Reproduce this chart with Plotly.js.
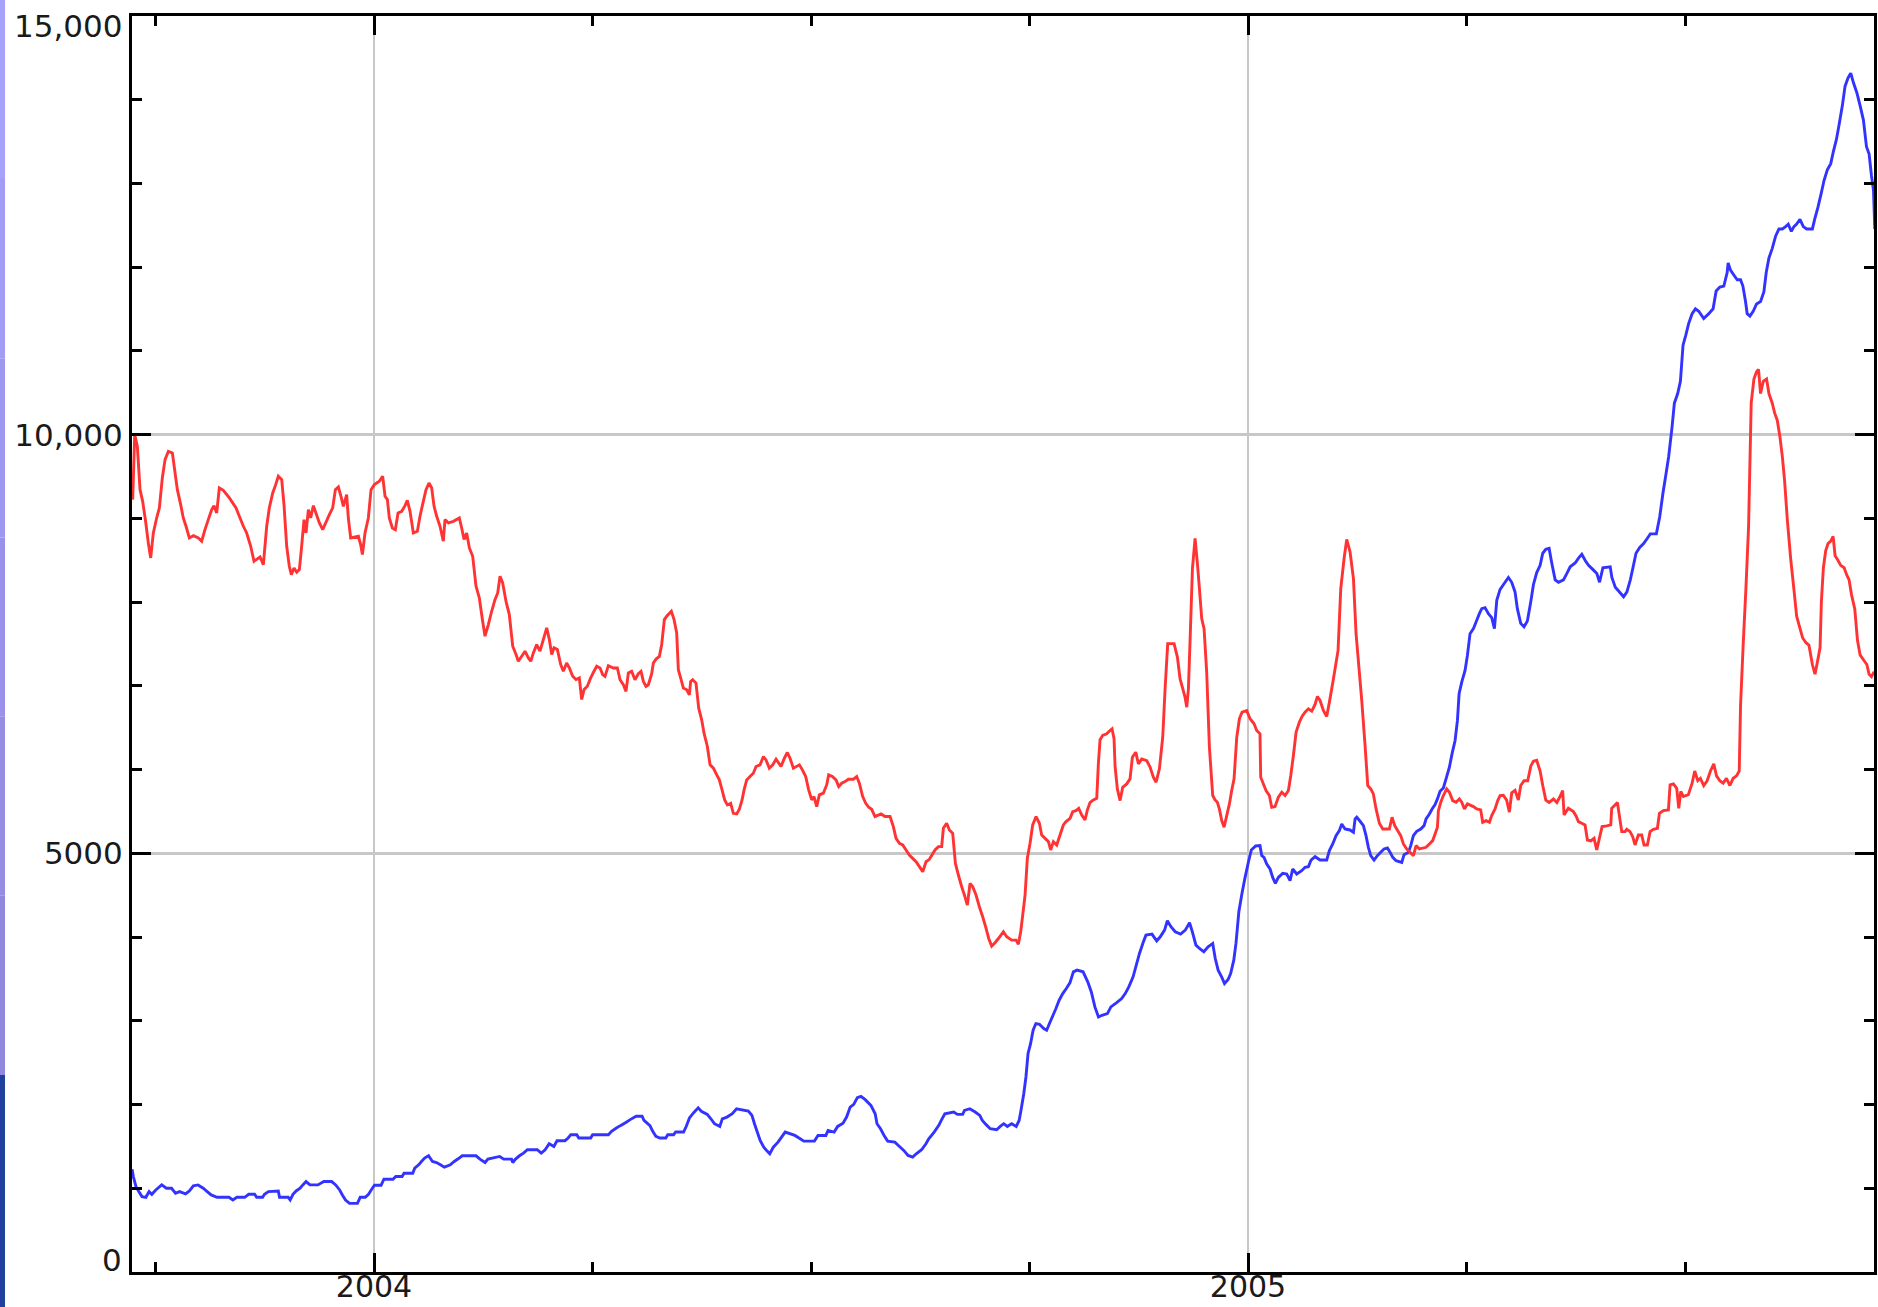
<!DOCTYPE html>
<html>
<head>
<meta charset="utf-8">
<script src="https://cdn.plot.ly/plotly-3.0.1.min.js"></script>
<style>
  html, body { margin: 0; padding: 0; background: #ffffff; }
  #chart { width: 1878px; height: 1307px; }
</style>
</head>
<body>
<div id="chart"></div>
<script>
// ---- Data (decimal year, value) ----
const redSeries = [
[2003.7239,9224],[2003.7262,10000],[2003.7292,9861],[2003.7323,9343],[2003.7353,9204],[2003.7384,8985],[2003.7418,8707],[2003.7445,8528],
[2003.7475,8826],[2003.7513,9005],[2003.7544,9125],[2003.7578,9483],[2003.7609,9702],[2003.7647,9801],[2003.7693,9781],[2003.7750,9343],
[2003.7788,9164],[2003.7818,9005],[2003.7849,8906],[2003.7887,8767],[2003.7933,8794],[2003.7990,8767],[2003.8028,8727],[2003.8066,8866],
[2003.8104,8985],[2003.8143,9105],[2003.8169,9152],[2003.8200,9065],[2003.8230,9363],[2003.8276,9335],[2003.8345,9244],[2003.8421,9125],
[2003.8459,9025],[2003.8505,8906],[2003.8543,8826],[2003.8589,8667],[2003.8627,8488],[2003.8696,8540],[2003.8734,8448],[2003.8772,8906],
[2003.8802,9125],[2003.8841,9304],[2003.8875,9403],[2003.8905,9503],[2003.8944,9463],[2003.8970,9164],[2003.9001,8667],[2003.9031,8428],
[2003.9054,8329],[2003.9085,8408],[2003.9115,8357],[2003.9146,8389],[2003.9172,8667],[2003.9199,8985],[2003.9222,8826],[2003.9249,9105],
[2003.9275,9005],[2003.9306,9152],[2003.9375,8946],[2003.9413,8866],[2003.9489,9045],[2003.9527,9125],[2003.9558,9343],[2003.9592,9375],
[2003.9622,9264],[2003.9649,9144],[2003.9687,9284],[2003.9706,9005],[2003.9733,8767],[2003.9821,8786],[2003.9847,8687],[2003.9867,8568],
[2003.9897,8826],[2003.9935,9005],[2003.9966,9343],[2004.0004,9403],[2004.0061,9443],[2004.0099,9503],[2004.0126,9264],[2004.0153,9224],
[2004.0175,9005],[2004.0210,8886],[2004.0244,8866],[2004.0275,9065],[2004.0317,9085],[2004.0355,9152],[2004.0381,9216],[2004.0412,9085],
[2004.0450,8826],[2004.0496,8846],[2004.0526,9025],[2004.0564,9204],[2004.0595,9343],[2004.0629,9423],[2004.0660,9363],[2004.0687,9144],
[2004.0717,9025],[2004.0755,8906],[2004.0793,8727],[2004.0812,8985],[2004.0851,8946],[2004.0908,8965],[2004.0976,9005],[2004.1003,8886],
[2004.1030,8747],[2004.1060,8826],[2004.1091,8647],[2004.1129,8548],[2004.1167,8190],[2004.1205,8050],[2004.1240,7792],[2004.1270,7593],
[2004.1308,7732],[2004.1346,7891],[2004.1384,8030],[2004.1415,8110],[2004.1442,8309],[2004.1472,8229],[2004.1510,8010],[2004.1548,7851],
[2004.1587,7473],[2004.1625,7374],[2004.1651,7294],[2004.1690,7354],[2004.1728,7414],[2004.1766,7334],[2004.1793,7294],[2004.1823,7394],
[2004.1861,7493],[2004.1899,7414],[2004.1937,7553],[2004.1976,7692],[2004.2006,7553],[2004.2033,7374],[2004.2060,7454],[2004.2098,7434],
[2004.2136,7254],[2004.2166,7175],[2004.2204,7274],[2004.2235,7214],[2004.2273,7115],[2004.2311,7075],[2004.2349,7095],[2004.2376,6837],
[2004.2403,6956],[2004.2441,6996],[2004.2479,7095],[2004.2517,7175],[2004.2548,7234],[2004.2586,7214],[2004.2616,7135],[2004.2643,7113],
[2004.2681,7241],[2004.2738,7213],[2004.2784,7213],[2004.2815,7073],[2004.2853,7013],[2004.2883,6934],[2004.2910,7153],[2004.2948,7173],
[2004.2986,7073],[2004.3024,7145],[2004.3055,7173],[2004.3082,7053],[2004.3112,6994],[2004.3139,7013],[2004.3177,7145],[2004.3196,7273],
[2004.3227,7320],[2004.3265,7352],[2004.3291,7492],[2004.3322,7791],[2004.3349,7831],[2004.3402,7891],[2004.3433,7791],[2004.3463,7631],
[2004.3482,7193],[2004.3509,7093],[2004.3539,6974],[2004.3578,6954],[2004.3608,6894],[2004.3623,7053],[2004.3646,7073],[2004.3684,7033],
[2004.3715,6734],[2004.3749,6595],[2004.3776,6435],[2004.3814,6276],[2004.3845,6057],[2004.3883,6017],[2004.3921,5937],[2004.3951,5877],
[2004.3982,5758],[2004.4012,5638],[2004.4043,5578],[2004.4081,5598],[2004.4111,5478],[2004.4150,5470],[2004.4180,5526],[2004.4211,5638],
[2004.4234,5758],[2004.4264,5877],[2004.4302,5917],[2004.4340,5957],[2004.4371,6037],[2004.4417,6057],[2004.4455,6156],[2004.4485,6116],
[2004.4523,6017],[2004.4562,6057],[2004.4600,6124],[2004.4657,6037],[2004.4695,6136],[2004.4729,6204],[2004.4760,6136],[2004.4798,6017],
[2004.4867,6057],[2004.4901,5997],[2004.4939,5917],[2004.4973,5758],[2004.5008,5638],[2004.5034,5678],[2004.5065,5558],[2004.5095,5698],
[2004.5141,5718],[2004.5179,5817],[2004.5202,5937],[2004.5244,5917],[2004.5286,5877],[2004.5317,5797],[2004.5351,5837],[2004.5389,5857],
[2004.5427,5885],[2004.5485,5885],[2004.5523,5917],[2004.5553,5837],[2004.5591,5678],[2004.5626,5598],[2004.5660,5550],[2004.5694,5526],
[2004.5732,5439],[2004.5801,5470],[2004.5847,5439],[2004.5904,5439],[2004.5942,5319],[2004.5973,5179],[2004.6011,5120],[2004.6049,5100],
[2004.6087,5040],[2004.6125,4980],[2004.6163,4940],[2004.6202,4900],[2004.6240,4841],[2004.6278,4781],[2004.6316,4900],[2004.6354,4928],
[2004.6419,5040],[2004.6457,5080],[2004.6495,5080],[2004.6514,5299],[2004.6552,5359],[2004.6583,5279],[2004.6621,5239],[2004.6652,4880],
[2004.6686,4741],[2004.6724,4601],[2004.6755,4502],[2004.6789,4382],[2004.6819,4641],[2004.6850,4601],[2004.6888,4502],[2004.6926,4362],
[2004.6964,4242],[2004.7003,4103],[2004.7033,3983],[2004.7067,3892],[2004.7105,3932],[2004.7144,3983],[2004.7201,4063],[2004.7239,4003],
[2004.7296,3963],[2004.7346,3963],[2004.7372,3915],[2004.7399,4063],[2004.7422,4262],[2004.7449,4502],[2004.7475,4940],[2004.7506,5120],
[2004.7536,5339],[2004.7575,5439],[2004.7613,5359],[2004.7639,5219],[2004.7678,5179],[2004.7716,5140],[2004.7742,5040],[2004.7773,5140],
[2004.7811,5100],[2004.7849,5219],[2004.7887,5339],[2004.7918,5379],[2004.7964,5419],[2004.7994,5498],[2004.8032,5510],[2004.8063,5538],
[2004.8097,5458],[2004.8135,5399],[2004.8162,5518],[2004.8192,5606],[2004.8230,5638],[2004.8269,5658],[2004.8288,6077],[2004.8307,6356],
[2004.8337,6407],[2004.8383,6427],[2004.8421,6467],[2004.8444,6487],[2004.8467,6368],[2004.8479,6037],[2004.8505,5769],[2004.8536,5630],
[2004.8566,5789],[2004.8612,5829],[2004.8650,5889],[2004.8677,6148],[2004.8715,6208],[2004.8746,6068],[2004.8784,6128],[2004.8841,6108],
[2004.8879,6029],[2004.8917,5909],[2004.8948,5849],[2004.8986,6009],[2004.9024,6387],[2004.9051,6966],[2004.9081,7504],[2004.9154,7504],
[2004.9192,7344],[2004.9222,7085],[2004.9253,6966],[2004.9279,6866],[2004.9299,6746],[2004.9318,6966],[2004.9337,7544],[2004.9364,8401],
[2004.9394,8760],[2004.9421,8461],[2004.9444,8162],[2004.9470,7803],[2004.9497,7683],[2004.9527,7165],[2004.9558,6268],[2004.9596,5690],
[2004.9623,5638],[2004.9649,5610],[2004.9672,5530],[2004.9699,5391],[2004.9726,5311],[2004.9756,5451],[2004.9787,5590],[2004.9813,5750],
[2004.9840,5889],[2004.9871,6387],[2004.9901,6607],[2004.9932,6686],[2004.9985,6706],[2005.0023,6607],[2005.0069,6547],[2005.0099,6467],
[2005.0137,6427],[2005.0145,5909],[2005.0176,5829],[2005.0206,5750],[2005.0244,5690],[2005.0271,5550],[2005.0309,5558],[2005.0347,5670],
[2005.0386,5730],[2005.0424,5690],[2005.0462,5750],[2005.0489,5929],[2005.0519,6168],[2005.0550,6447],[2005.0588,6567],[2005.0618,6635],
[2005.0652,6686],[2005.0691,6726],[2005.0729,6698],[2005.0767,6778],[2005.0794,6874],[2005.0824,6826],[2005.0862,6706],[2005.0900,6635],
[2005.0931,6806],[2005.0969,7033],[2005.0996,7205],[2005.1030,7424],[2005.1061,8162],[2005.1099,8521],[2005.1129,8748],[2005.1167,8600],
[2005.1206,8281],[2005.1236,7623],[2005.1270,7205],[2005.1301,6826],[2005.1339,6288],[2005.1370,5809],[2005.1404,5769],[2005.1434,5710],
[2005.1465,5530],[2005.1503,5359],[2005.1541,5291],[2005.1617,5291],[2005.1648,5431],[2005.1678,5331],[2005.1713,5271],[2005.1747,5211],
[2005.1778,5112],[2005.1816,5052],[2005.1854,5012],[2005.1892,4972],[2005.1923,5092],[2005.1961,5052],[2005.2037,5072],[2005.2075,5112],
[2005.2113,5152],[2005.2140,5231],[2005.2167,5311],[2005.2178,5510],[2005.2205,5610],[2005.2235,5690],[2005.2273,5769],[2005.2304,5730],
[2005.2342,5630],[2005.2380,5610],[2005.2418,5650],[2005.2445,5610],[2005.2476,5530],[2005.2510,5590],[2005.2579,5558],[2005.2617,5530],
[2005.2662,5518],[2005.2685,5371],[2005.2723,5391],[2005.2762,5371],[2005.2788,5451],[2005.2826,5530],[2005.2857,5630],[2005.2884,5690],
[2005.2921,5694],[2005.2959,5636],[2005.2990,5492],[2005.3017,5723],[2005.3055,5752],[2005.3093,5636],[2005.3120,5810],[2005.3158,5867],
[2005.3200,5867],[2005.3235,6041],[2005.3265,6099],[2005.3303,6110],[2005.3342,5983],[2005.3372,5810],[2005.3407,5636],[2005.3445,5607],
[2005.3495,5648],[2005.3533,5607],[2005.3570,5678],[2005.3600,5750],[2005.3616,5459],[2005.3665,5538],[2005.3723,5498],[2005.3753,5447],
[2005.3780,5379],[2005.3818,5359],[2005.3856,5339],[2005.3883,5159],[2005.3921,5148],[2005.3959,5179],[2005.3990,5040],[2005.4020,5179],
[2005.4051,5319],[2005.4104,5327],[2005.4150,5339],[2005.4161,5538],[2005.4199,5578],[2005.4226,5606],[2005.4249,5447],[2005.4276,5259],
[2005.4314,5259],[2005.4333,5287],[2005.4371,5259],[2005.4401,5199],[2005.4428,5100],[2005.4466,5219],[2005.4504,5219],[2005.4531,5100],
[2005.4569,5100],[2005.4600,5259],[2005.4638,5287],[2005.4684,5299],[2005.4707,5478],[2005.4752,5510],[2005.4810,5518],[2005.4829,5817],
[2005.4867,5829],[2005.4905,5777],[2005.4928,5538],[2005.4951,5738],[2005.4981,5678],[2005.5038,5700],[2005.5081,5838],[2005.5111,5983],
[2005.5146,5867],[2005.5176,5896],[2005.5214,5810],[2005.5253,5867],[2005.5291,5983],[2005.5329,6070],[2005.5360,5925],[2005.5398,5867],
[2005.5436,5838],[2005.5474,5896],[2005.5513,5810],[2005.5551,5896],[2005.5589,5925],[2005.5620,5983],[2005.5635,6763],[2005.5665,7486],
[2005.5696,8150],[2005.5727,8902],[2005.5757,10376],[2005.5788,10665],[2005.5818,10751],[2005.5841,10780],[2005.5864,10491],[2005.5895,10636],
[2005.5933,10665],[2005.5960,10491],[2005.5998,10376],[2005.6025,10260],[2005.6055,10173],[2005.6086,9971],[2005.6113,9740],[2005.6139,9451],
[2005.6170,8988],[2005.6208,8526],[2005.6246,8150],[2005.6277,7833],[2005.6315,7688],[2005.6346,7572],[2005.6384,7515],[2005.6418,7486],
[2005.6457,7255],[2005.6487,7139],[2005.6514,7283],[2005.6545,7457],[2005.6560,8006],[2005.6583,8411],[2005.6609,8613],[2005.6636,8700],
[2005.6667,8728],[2005.6694,8786],[2005.6717,8555],[2005.6751,8497],[2005.6781,8439],[2005.6820,8411],[2005.6850,8324],[2005.6877,8266],
[2005.6904,8093],[2005.6942,7919],[2005.6973,7544],[2005.7003,7370],[2005.7041,7312],[2005.7080,7255],[2005.7106,7139],[2005.7133,7110],
[2005.7164,7168]
];

const blueSeries = [
[2003.7232,1228],[2003.7246,1140],[2003.7277,1020],[2003.7309,960],[2003.7345,900],[2003.7390,892],[2003.7426,960],[2003.7458,928],
[2003.7503,980],[2003.7571,1040],[2003.7625,1000],[2003.7684,1000],[2003.7729,940],[2003.7775,960],[2003.7843,932],[2003.7888,968],
[2003.7933,1028],[2003.7987,1040],[2003.8046,1000],[2003.8091,960],[2003.8137,920],[2003.8204,892],[2003.8340,892],[2003.8385,860],
[2003.8431,892],[2003.8521,892],[2003.8566,928],[2003.8634,928],[2003.8657,892],[2003.8725,892],[2003.8747,928],[2003.8792,960],
[2003.8905,968],[2003.8919,892],[2003.9019,892],[2003.9041,860],[2003.9073,928],[2003.9109,968],[2003.9154,1000],[2003.9186,1040],
[2003.9222,1080],[2003.9267,1040],[2003.9358,1040],[2003.9426,1080],[2003.9516,1080],[2003.9561,1040],[2003.9607,980],[2003.9638,920],
[2003.9674,860],[2003.9720,820],[2003.9810,820],[2003.9842,892],[2003.9900,892],[2003.9937,928],[2003.9968,980],[2004.0005,1036],
[2004.0081,1036],[2004.0113,1108],[2004.0217,1108],[2004.0249,1140],[2004.0321,1140],[2004.0344,1180],[2004.0443,1180],[2004.0466,1240],
[2004.0511,1280],[2004.0543,1320],[2004.0579,1360],[2004.0624,1388],[2004.0669,1320],[2004.0715,1308],[2004.0760,1280],[2004.0805,1252],
[2004.0873,1280],[2004.0918,1320],[2004.0963,1352],[2004.1009,1388],[2004.1167,1388],[2004.1212,1348],[2004.1271,1308],[2004.1303,1348],
[2004.1438,1380],[2004.1484,1348],[2004.1574,1348],[2004.1588,1308],[2004.1619,1348],[2004.1664,1388],[2004.1710,1420],[2004.1755,1460],
[2004.1868,1460],[2004.1913,1420],[2004.1958,1460],[2004.2004,1532],[2004.2058,1500],[2004.2094,1568],[2004.2185,1568],[2004.2221,1600],
[2004.2252,1640],[2004.2320,1640],[2004.2343,1600],[2004.2479,1600],[2004.2501,1640],[2004.2682,1640],[2004.2718,1680],[2004.2773,1720],
[2004.2818,1748],[2004.2886,1788],[2004.2931,1820],[2004.2999,1860],[2004.3067,1860],[2004.3089,1812],[2004.3157,1748],[2004.3189,1680],
[2004.3225,1620],[2004.3270,1600],[2004.3338,1600],[2004.3361,1640],[2004.3428,1640],[2004.3451,1672],[2004.3542,1672],[2004.3573,1740],
[2004.3609,1840],[2004.3655,1900],[2004.3709,1960],[2004.3745,1920],[2004.3813,1882],[2004.3854,1830],[2004.3895,1771],[2004.3956,1739],
[2004.3985,1830],[2004.4038,1850],[2004.4099,1890],[2004.4148,1950],[2004.4283,1922],[2004.4324,1870],[2004.4353,1771],[2004.4385,1671],
[2004.4418,1571],[2004.4459,1491],[2004.4492,1452],[2004.4528,1412],[2004.4569,1491],[2004.4622,1551],[2004.4663,1611],[2004.4704,1671],
[2004.4815,1631],[2004.4876,1591],[2004.4917,1563],[2004.5039,1563],[2004.5080,1631],[2004.5170,1631],[2004.5195,1691],[2004.5264,1671],
[2004.5305,1739],[2004.5366,1778],[2004.5407,1850],[2004.5448,1970],[2004.5489,2002],[2004.5530,2082],[2004.5571,2098],[2004.5620,2058],
[2004.5685,1990],[2004.5734,1890],[2004.5755,1771],[2004.5795,1711],[2004.5836,1631],[2004.5877,1563],[2004.5959,1551],[2004.6012,1499],
[2004.6061,1452],[2004.6110,1392],[2004.6163,1372],[2004.6204,1412],[2004.6265,1460],[2004.6315,1531],[2004.6347,1591],[2004.6409,1671],
[2004.6462,1751],[2004.6490,1810],[2004.6531,1890],[2004.6633,1910],[2004.6674,1882],[2004.6735,1882],[2004.6756,1930],[2004.6817,1950],
[2004.6878,1910],[2004.6931,1870],[2004.6960,1810],[2004.7001,1763],[2004.7050,1711],[2004.7124,1699],[2004.7165,1739],[2004.7205,1771],
[2004.7246,1739],[2004.7295,1771],[2004.7348,1739],[2004.7381,1810],[2004.7402,1930],[2004.7434,2129],[2004.7459,2329],[2004.7483,2608],
[2004.7512,2727],[2004.7541,2887],[2004.7573,2967],[2004.7614,2959],[2004.7663,2907],[2004.7696,2887],[2004.7728,2967],[2004.7769,3066],
[2004.7802,3146],[2004.7839,3246],[2004.7880,3325],[2004.7921,3385],[2004.7962,3453],[2004.8002,3585],[2004.8043,3605],[2004.8113,3585],
[2004.8166,3465],[2004.8207,3345],[2004.8248,3166],[2004.8289,3046],[2004.8329,3066],[2004.8391,3086],[2004.8431,3166],[2004.8493,3214],
[2004.8554,3266],[2004.8595,3325],[2004.8636,3405],[2004.8685,3525],[2004.8726,3684],[2004.8758,3804],[2004.8799,3931],[2004.8832,4023],
[2004.8901,4035],[2004.8955,3955],[2004.8996,4003],[2004.9045,4083],[2004.9077,4195],[2004.9118,4123],[2004.9167,4063],[2004.9228,4035],
[2004.9282,4083],[2004.9331,4171],[2004.9363,4063],[2004.9404,3904],[2004.9445,3864],[2004.9494,3824],[2004.9543,3884],[2004.9596,3924],
[2004.9625,3744],[2004.9658,3605],[2004.9698,3525],[2004.9731,3445],[2004.9772,3493],[2004.9801,3565],[2004.9837,3724],[2004.9862,3924],
[2004.9895,4302],[2004.9931,4522],[2004.9964,4701],[2005.0005,4900],[2005.0038,5040],[2005.0087,5088],[2005.0137,5092],[2005.0157,4972],
[2005.0183,4952],[2005.0214,4872],[2005.0252,4813],[2005.0282,4713],[2005.0313,4641],[2005.0347,4713],[2005.0397,4761],[2005.0443,4753],
[2005.0481,4673],[2005.0511,4813],[2005.0557,4753],[2005.0614,4793],[2005.0652,4833],[2005.0691,4841],[2005.0721,4920],[2005.0767,4960],
[2005.0824,4920],[2005.0900,4920],[2005.0931,5032],[2005.0969,5112],[2005.1007,5211],[2005.1045,5271],[2005.1072,5351],[2005.1110,5291],
[2005.1167,5279],[2005.1206,5251],[2005.1225,5411],[2005.1244,5431],[2005.1282,5383],[2005.1320,5331],[2005.1350,5211],[2005.1377,5072],
[2005.1404,4972],[2005.1442,4920],[2005.1480,4972],[2005.1518,5012],[2005.1556,5052],[2005.1595,5064],[2005.1625,5012],[2005.1656,4952],
[2005.1694,4912],[2005.1759,4892],[2005.1785,4984],[2005.1835,5012],[2005.1862,5092],[2005.1892,5211],[2005.1930,5263],[2005.1976,5291],
[2005.2014,5331],[2005.2037,5411],[2005.2075,5470],[2005.2106,5530],[2005.2140,5582],[2005.2167,5650],[2005.2197,5742],[2005.2235,5781],
[2005.2273,5917],[2005.2304,6029],[2005.2334,6188],[2005.2369,6348],[2005.2396,6587],[2005.2415,6906],[2005.2445,7045],[2005.2483,7185],
[2005.2510,7364],[2005.2540,7623],[2005.2579,7683],[2005.2609,7763],[2005.2647,7863],[2005.2674,7922],[2005.2712,7934],[2005.2750,7863],
[2005.2788,7815],[2005.2819,7683],[2005.2846,8022],[2005.2883,8150],[2005.2921,8208],[2005.2979,8295],[2005.3017,8237],[2005.3055,8122],
[2005.3082,7919],[2005.3120,7746],[2005.3158,7705],[2005.3196,7775],[2005.3235,8006],[2005.3265,8208],[2005.3303,8353],[2005.3342,8439],
[2005.3372,8584],[2005.3407,8630],[2005.3445,8642],[2005.3475,8468],[2005.3514,8266],[2005.3552,8237],[2005.3609,8266],[2005.3647,8341],
[2005.3686,8422],[2005.3743,8468],[2005.3781,8526],[2005.3819,8572],[2005.3858,8497],[2005.3896,8439],[2005.3953,8382],[2005.3991,8341],
[2005.4022,8237],[2005.4060,8410],[2005.4144,8422],[2005.4163,8295],[2005.4202,8179],[2005.4240,8133],[2005.4297,8064],[2005.4335,8122],
[2005.4374,8266],[2005.4404,8410],[2005.4439,8584],[2005.4481,8653],[2005.4526,8700],[2005.4565,8757],[2005.4603,8815],[2005.4672,8815],
[2005.4710,9017],[2005.4748,9306],[2005.4779,9509],[2005.4813,9740],[2005.4851,10087],[2005.4878,10376],[2005.4916,10491],[2005.4947,10636],
[2005.4977,11069],[2005.5008,11185],[2005.5042,11329],[2005.5081,11445],[2005.5119,11503],[2005.5157,11474],[2005.5214,11387],[2005.5272,11445],
[2005.5321,11503],[2005.5356,11717],[2005.5398,11763],[2005.5444,11775],[2005.5482,11936],[2005.5493,12052],[2005.5520,11965],[2005.5558,11907],
[2005.5597,11850],[2005.5635,11850],[2005.5662,11775],[2005.5692,11590],[2005.5711,11445],[2005.5742,11416],[2005.5780,11474],[2005.5818,11561],
[2005.5864,11590],[2005.5902,11705],[2005.5929,11936],[2005.5960,12110],[2005.5998,12225],[2005.6036,12370],[2005.6074,12457],[2005.6113,12457],
[2005.6151,12485],[2005.6181,12514],[2005.6216,12428],[2005.6246,12485],[2005.6277,12514],[2005.6315,12572],[2005.6353,12485],[2005.6392,12457],
[2005.6457,12457],[2005.6483,12572],[2005.6521,12717],[2005.6560,12890],[2005.6590,13035],[2005.6628,13162],[2005.6667,13237],[2005.6697,13381],
[2005.6732,13526],[2005.6762,13699],[2005.6800,13930],[2005.6831,14162],[2005.6865,14260],[2005.6896,14318],[2005.6927,14202],[2005.6965,14087],
[2005.7003,13930],[2005.7041,13757],[2005.7076,13439],[2005.7106,13352],[2005.7133,13092],[2005.7156,12919],[2005.7171,12457]
];

const xRange = [2003.7231, 2005.7162];
const yRange = [0, 15000];
const yearTicks = [2004, 2005];
const yearTickLabels = ['2004', '2005'];
const valueTicks = [5000, 10000];
const valueTickLabels = ['5000', '10,000'];
// the two end labels sit just inside the frame in the reference
const endValues = [15000, 0];
const endLabels = ['15,000', '0'];
const endShifts = [-10, 12];

// ---- Chart ----
const tickFont = { family: 'DejaVu Sans, Verdana, sans-serif', size: 31, color: '#1a1a1a' };
const xTickFont = { family: 'DejaVu Sans, Verdana, sans-serif', size: 30, color: '#1a1a1a' };

const traces = [
  {
    x: blueSeries.map(p => p[0]), y: blueSeries.map(p => p[1]),
    type: 'scatter', mode: 'lines',
    line: { color: '#3333ff', width: 2.9, simplify: false },
    hoverinfo: 'skip', showlegend: false
  },
  {
    x: redSeries.map(p => p[0]), y: redSeries.map(p => p[1]),
    type: 'scatter', mode: 'lines',
    line: { color: '#ff3333', width: 2.9, simplify: false },
    hoverinfo: 'skip', showlegend: false
  }
];

// decorative strip at the far left edge of the page
const stripColors = ['#a6a2fc','#a29cf6','#9e97f0','#9a92ea','#958ce4','#9088de'];
const shapes = [];
const topY = 1.0128, midY = 0.1568, botY = -0.03;
for (let i = 0; i < stripColors.length; i++) {
  const y1 = topY - (topY - midY) * i / stripColors.length;
  const y0 = topY - (topY - midY) * (i + 1) / stripColors.length;
  shapes.push({ type: 'rect', xref: 'paper', yref: 'paper', x0: -0.0765, x1: -0.0729, y0: y0, y1: y1,
    fillcolor: stripColors[i], line: { width: 0 }, layer: 'above' });
}
shapes.push({ type: 'rect', xref: 'paper', yref: 'paper', x0: -0.0765, x1: -0.0729, y0: botY, y1: midY,
  fillcolor: '#20409e', line: { width: 0 }, layer: 'above' });

const annotations = endValues.map((v, i) => ({
  xref: 'paper', yref: 'y', x: 0, y: v, xanchor: 'right', yanchor: 'middle',
  xshift: -8, yshift: endShifts[i], showarrow: false,
  text: endLabels[i], font: tickFont
}));

const layout = {
  width: 1878, height: 1307,
  margin: { l: 132, r: 4, t: 16, b: 35, pad: 0 },
  paper_bgcolor: '#ffffff', plot_bgcolor: '#ffffff',
  showlegend: false,
  xaxis: {
    type: 'linear', range: xRange,
    tickmode: 'array', tickvals: yearTicks, ticktext: yearTickLabels,
    ticks: 'inside', ticklen: 19, tickwidth: 3, tickcolor: '#000',
    ticklabelstandoff: -14,
    showgrid: true, gridcolor: '#c8c8c8', gridwidth: 2.5,
    showline: true, linecolor: '#000', linewidth: 3, mirror: 'ticks',
    zeroline: false, tickfont: xTickFont,
    minor: { tick0: 2004, dtick: 0.25, ticks: 'inside', ticklen: 10, tickwidth: 3, tickcolor: '#000', showgrid: false },
    fixedrange: true
  },
  yaxis: {
    range: yRange,
    tickmode: 'array', tickvals: valueTicks, ticktext: valueTickLabels,
    ticks: 'inside', ticklen: 19, tickwidth: 3, tickcolor: '#000',
    showgrid: true, gridcolor: '#c8c8c8', gridwidth: 2.5,
    showline: true, linecolor: '#000', linewidth: 3, mirror: 'ticks',
    zeroline: false, tickfont: tickFont,
    minor: { tick0: 0, dtick: 1000, ticks: 'inside', ticklen: 10, tickwidth: 3, tickcolor: '#000', showgrid: false },
    fixedrange: true
  },
  annotations: annotations,
  shapes: shapes
};

Plotly.newPlot('chart', traces, layout, { displayModeBar: false, staticPlot: true });
</script>
</body>
</html>
